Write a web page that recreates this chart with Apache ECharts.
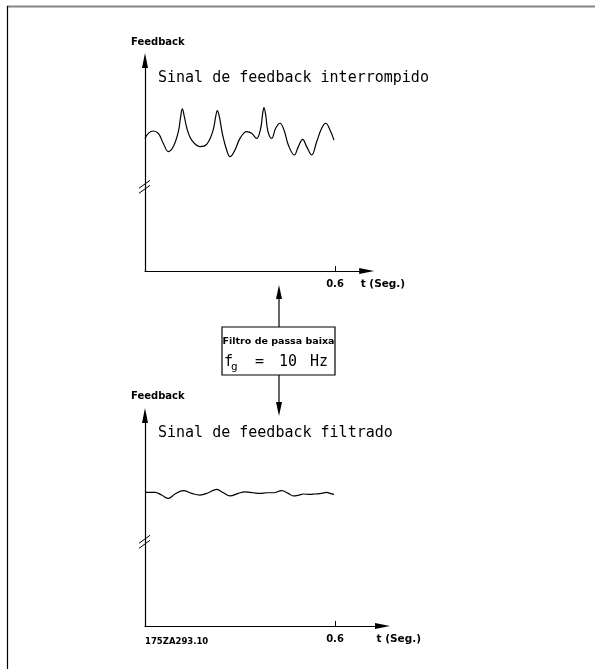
<!DOCTYPE html>
<html>
<head>
<meta charset="utf-8">
<script src="https://cdn.jsdelivr.net/npm/echarts@6/dist/echarts.min.js"></script>
<style>
  html, body { margin: 0; padding: 0; background: #ffffff; }
  #chart { width: 595px; height: 669px; }
</style>
</head>
<body>
<div id="chart"></div>
<script>
// Raw feedback signal (interrupted): time in seconds, feedback level in arbitrary units
const rawTime = [0, 0.0105, 0.0263, 0.0421, 0.0579, 0.0737, 0.0895, 0.1053, 0.1126, 0.1179,
  0.1242, 0.1337, 0.1474, 0.1737, 0.1947, 0.2137, 0.2232, 0.2284, 0.2347, 0.2453,
  0.2579, 0.2684, 0.2842, 0.3000, 0.3211, 0.3368, 0.3526, 0.3653, 0.3716, 0.3758,
  0.3811, 0.3884, 0.4000, 0.4126, 0.4263, 0.4389, 0.4526, 0.4716, 0.4842, 0.4979,
  0.5105, 0.5263, 0.5421, 0.5579, 0.5705, 0.5842, 0.5968];
const rawFeedback = [63.0, 65.4, 66.5, 65.4, 60.6, 56.7, 59.1, 66.2, 73.3, 77.0,
  73.3, 67.0, 62.2, 59.1, 60.2, 66.2, 73.3, 76.2, 73.3, 64.6,
  57.5, 54.3, 57.5, 63.0, 66.2, 65.4, 63.0, 67.8, 74.9, 77.6,
  74.1, 66.2, 63.0, 67.8, 70.2, 67.0, 59.9, 55.1, 59.1, 62.5,
  59.1, 55.1, 61.4, 67.8, 70.2, 67.0, 62.2];

// Same signal after the 10 Hz low-pass filter
const filteredTime = [0, 0.0316, 0.0526, 0.0737, 0.0947, 0.1211, 0.1474, 0.1737, 0.2000, 0.2263,
  0.2474, 0.2684, 0.2947, 0.3158, 0.3421, 0.3632, 0.3842, 0.4053, 0.4316, 0.4526,
  0.4684, 0.4842, 0.5000, 0.5211, 0.5368, 0.5579, 0.5737, 0.5842, 0.5968];
const filteredFeedback = [63.5, 63.5, 62.2, 60.6, 62.7, 64.3, 63.0, 62.2, 63.3, 64.9,
  63.3, 61.8, 63.0, 63.7, 63.3, 63.0, 63.3, 63.3, 64.3, 63.0,
  61.8, 62.1, 62.7, 62.5, 62.7, 63.0, 63.5, 63.0, 62.5];

// Time axis tick labels and the level where the feedback axis is broken
const timeTicks = [0.6];
const breakLevel = 40;

const titles = ['Sinal de feedback interrompido', 'Sinal de feedback filtrado'];
const yAxisLabel = 'Feedback';
const xAxisLabel = 't (Seg.)';
const filterName = 'Filtro de passa baixa';
const drawingCode = '175ZA293.10';

const pairs = (xs, ys) => xs.map((x, i) => [x, ys[i]]);

const boldFont = 'DejaVu Sans';
const monoFont = 'DejaVu Sans Mono';

function timeAxis(gridIndex, max) {
  return {
    type: 'value', gridIndex: gridIndex, min: 0, max: max,
    axisLine: {
      show: true, onZero: false,
      symbol: ['none', 'triangle'], symbolSize: [6, 15],
      lineStyle: { color: '#000', width: 1.2 }
    },
    axisTick: {
      show: true, inside: true, length: 5, customValues: timeTicks,
      lineStyle: { color: '#000', width: 1 }
    },
    axisLabel: {
      show: true, customValues: timeTicks, margin: 8,
      formatter: v => v.toFixed(1),
      color: '#000', fontFamily: boldFont, fontWeight: 'bold', fontSize: 10
    },
    splitLine: { show: false },
    name: xAxisLabel, nameLocation: 'end', nameGap: -6,
    nameTextStyle: {
      color: '#000', fontFamily: boldFont, fontWeight: 'bold', fontSize: 10.5,
      align: 'left', verticalAlign: 'top', padding: [8, 0, 0, 0]
    }
  };
}

function levelAxis(gridIndex) {
  return {
    type: 'value', gridIndex: gridIndex, min: 0, max: 100,
    axisLine: {
      show: true, onZero: false,
      symbol: ['none', 'triangle'], symbolSize: [6, 15],
      lineStyle: { color: '#000', width: 1.2 }
    },
    axisTick: { show: false },
    axisLabel: { show: false },
    splitLine: { show: false }
  };
}

function signal(xi, data) {
  return {
    type: 'line', xAxisIndex: xi, yAxisIndex: xi, data: data,
    smooth: 0.4, showSymbol: false, silent: true,
    lineStyle: { color: '#000', width: 1.2 }
  };
}

const chart = echarts.init(document.getElementById('chart'), null, { renderer: 'canvas' });

chart.setOption({
  backgroundColor: '#ffffff',
  animation: false,
  grid: [
    { left: 145, top: 60.5, width: 221.67, height: 210.5 },
    { left: 145, top: 415.5, width: 237.5, height: 210.5 }
  ],
  xAxis: [timeAxis(0, 0.7), timeAxis(1, 0.75)],
  yAxis: [levelAxis(0), levelAxis(1)],
  series: [
    signal(0, pairs(rawTime, rawFeedback)),
    signal(1, pairs(filteredTime, filteredFeedback))
  ]
});

// Decorations: frame, titles, axis captions, filter block with arrows, axis break marks
const g = [];
const line = (x1, y1, x2, y2, stroke, w) => ({
  type: 'line', silent: true,
  shape: { x1: x1, y1: y1, x2: x2, y2: y2 },
  style: { stroke: stroke || '#000', lineWidth: w || 1 }
});
const text = (x, y, str, font, align) => ({
  type: 'text', x: x, y: y, silent: true,
  style: { text: str, font: font, fill: '#000', align: align || 'left', verticalAlign: 'middle' }
});

// frame
g.push(line(7, 6.5, 595, 6.5, '#858585', 2));
g.push(line(7.5, 6, 7.5, 669, '#000', 1.2));

// titles and axis captions
g.push(text(158, 78, titles[0], '15px "' + monoFont + '"'));
g.push(text(158, 433, titles[1], '15px "' + monoFont + '"'));
g.push(text(131, 42, yAxisLabel, 'bold 10px "' + boldFont + '"'));
g.push(text(131, 396, yAxisLabel, 'bold 10px "' + boldFont + '"'));
g.push(text(145, 642, drawingCode, 'bold 8.5px "' + boldFont + '"'));

// low-pass filter block
g.push({ type: 'rect', silent: true, shape: { x: 222, y: 327, width: 113, height: 48 },
  style: { fill: '#fff', stroke: '#000', lineWidth: 1.2 } });
g.push(text(278.5, 342, filterName, 'bold 9.5px "' + boldFont + '"', 'center'));
g.push(text(224, 362, 'f', '15px "' + monoFont + '"'));
g.push(text(231, 367, 'g', '11px "' + monoFont + '"'));
g.push(text(255, 362, '=', '15px "' + monoFont + '"'));
g.push(text(279, 362, '10', '15px "' + monoFont + '"'));
g.push(text(310, 362, 'Hz', '15px "' + monoFont + '"'));

// arrows to/from the filter
g.push(line(279, 327, 279, 297, '#000', 1.2));
g.push({ type: 'polygon', silent: true, shape: { points: [[279, 285], [276, 299], [282, 299]] },
  style: { fill: '#000' } });
g.push(line(279, 375, 279, 403, '#000', 1.2));
g.push({ type: 'polygon', silent: true, shape: { points: [[279, 416], [276, 402], [282, 402]] },
  style: { fill: '#000' } });

// axis break marks on both feedback axes
[0, 1].forEach(function (i) {
  const p = chart.convertToPixel({ gridIndex: i }, [0, breakLevel]);
  const px = p[0], py = p[1];
  g.push(line(px - 6, py + 1.5, px + 5, py - 6.5, '#000', 1));
  g.push(line(px - 6, py + 6.5, px + 5, py - 1.5, '#000', 1));
});

chart.setOption({ graphic: g });
</script>
</body>
</html>
